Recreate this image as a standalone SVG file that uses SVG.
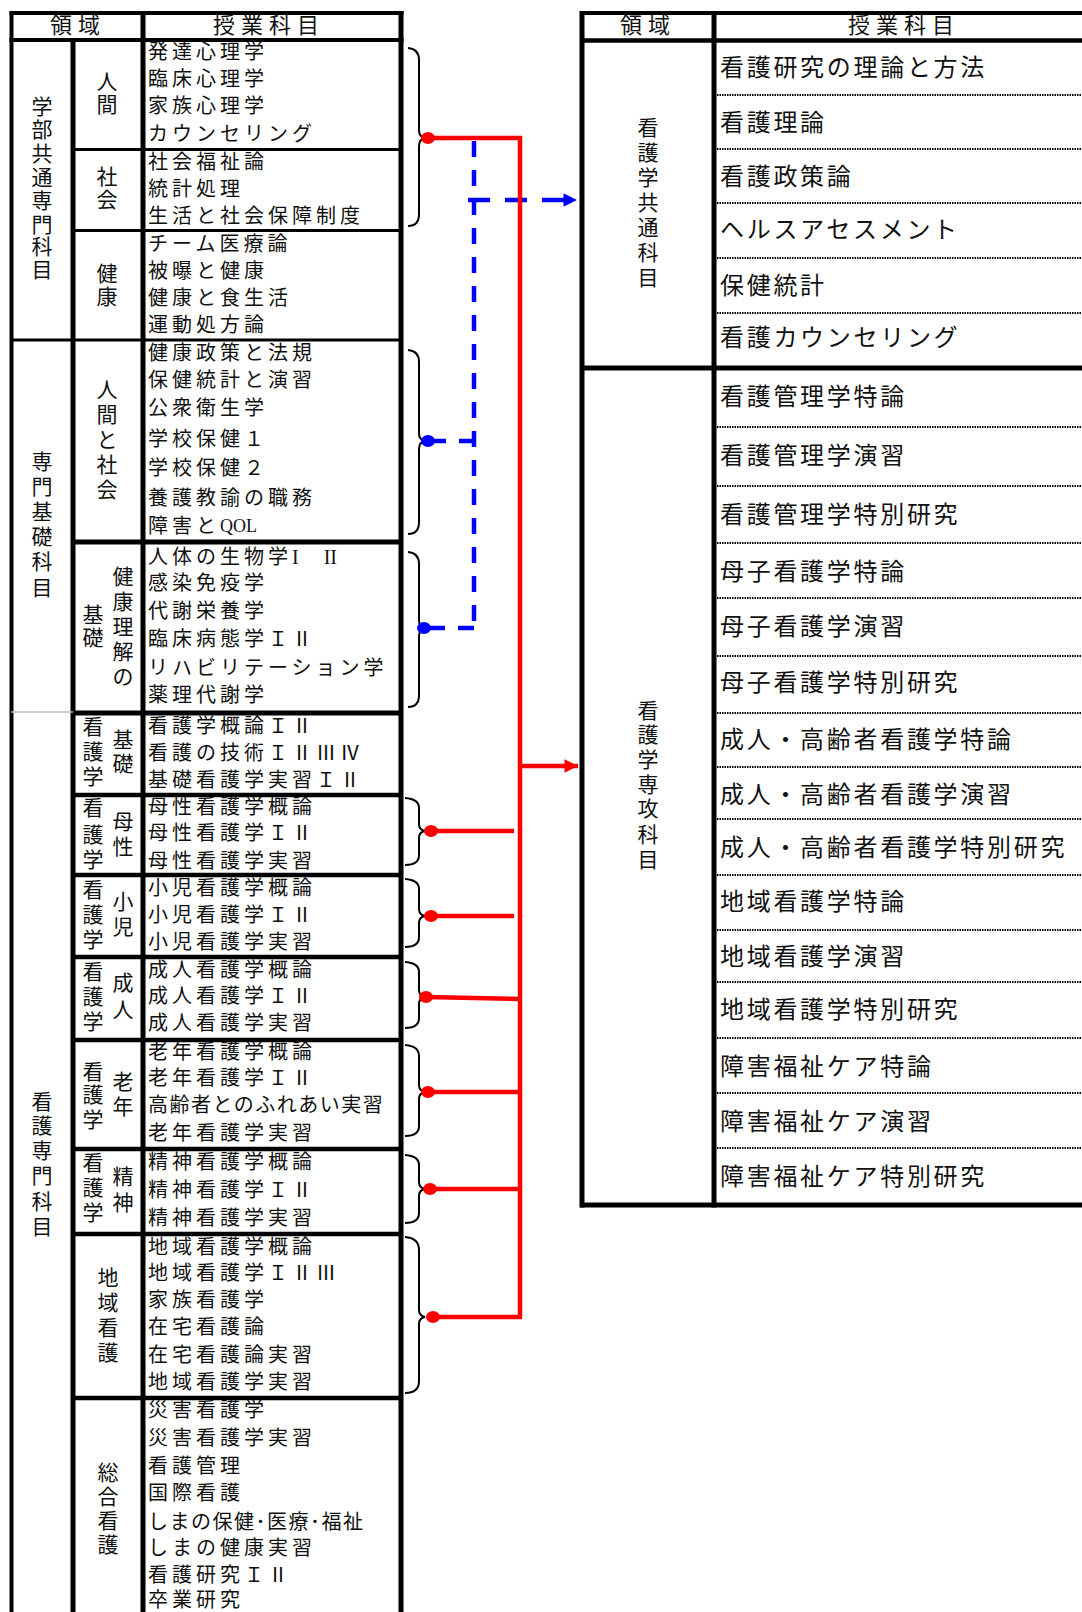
<svg xmlns="http://www.w3.org/2000/svg" width="1082" height="1612" viewBox="0 0 1082 1612">
<style>
text{font-family:"Liberation Serif","Noto Sans CJK JP",serif;fill:#111;dominant-baseline:central}
.c{font-size:20px;letter-spacing:4px}
.r{font-size:24px;letter-spacing:2.7px}
.v{font-size:21px;text-anchor:middle}
.h{font-size:22px;letter-spacing:6px}
.b{stroke:#000;fill:none}
.dot{stroke:#000;stroke-width:2;stroke-dasharray:1.5 1;fill:none}
.br{stroke:#000;stroke-width:2;fill:none}
.red{stroke:#f00;stroke-width:4.5;fill:none}
.blue{stroke:#00f;stroke-width:4.5;fill:none}
</style>
<defs>
<marker id="ar" viewBox="0 0 10 10" refX="10" refY="5" markerWidth="4" markerHeight="3" markerUnits="strokeWidth" orient="auto"><path d="M0 0L10 5L0 10z" fill="#f00"/></marker>
<marker id="ab" viewBox="0 0 10 10" refX="10" refY="5" markerWidth="4" markerHeight="3" markerUnits="strokeWidth" orient="auto"><path d="M0 0L10 5L0 10z" fill="#00f"/></marker>
</defs>
<rect width="1082" height="1612" fill="#fff"/>

<g id="left-grid">
<line class="b" stroke-width="4" x1="11.5" y1="11" x2="11.5" y2="1612"/>
<line class="b" stroke-width="5" x1="73" y1="40" x2="73" y2="1612"/>
<line class="b" stroke-width="5" x1="143" y1="11" x2="143" y2="1612"/>
<line class="b" stroke-width="5" x1="401" y1="11" x2="401" y2="1612"/>
<line class="b" stroke-width="4" x1="9.5" y1="13" x2="403.5" y2="13"/>
<line class="b" stroke-width="4" x1="9.5" y1="40" x2="403.5" y2="40"/>
<line class="b" stroke-width="3" x1="73" y1="149.5" x2="401" y2="149.5"/>
<line class="b" stroke-width="3" x1="73" y1="230.5" x2="401" y2="230.5"/>
<line class="b" stroke-width="3" x1="11" y1="340" x2="401" y2="340"/>
<line class="b" stroke-width="5" x1="73" y1="542" x2="401" y2="542"/>
<line class="b" stroke-width="5" x1="73" y1="713" x2="401" y2="713"/>
<line stroke="#bbb" stroke-width="1.5" x1="11" y1="712" x2="73" y2="712"/>
<line class="b" stroke-width="4.5" x1="73" y1="795" x2="401" y2="795"/>
<line class="b" stroke-width="4.5" x1="73" y1="875" x2="401" y2="875"/>
<line class="b" stroke-width="4.5" x1="73" y1="957" x2="401" y2="957"/>
<line class="b" stroke-width="4.5" x1="73" y1="1040" x2="401" y2="1040"/>
<line class="b" stroke-width="4.5" x1="73" y1="1149" x2="401" y2="1149"/>
<line class="b" stroke-width="4.5" x1="73" y1="1234" x2="401" y2="1234"/>
<line class="b" stroke-width="4.5" x1="73" y1="1398" x2="401" y2="1398"/>
</g>

<g id="left-header">
<text class="h" x="50" y="25">領域</text>
<text class="h" x="213" y="25">授業科目</text>
</g>

<g id="sec-gakubu">
<text class="v" x="42" y="107">学</text><text class="v" x="42" y="130">部</text><text class="v" x="42" y="154">共</text><text class="v" x="42" y="178">通</text><text class="v" x="42" y="201">専</text><text class="v" x="42" y="225">門</text><text class="v" x="42" y="247">科</text><text class="v" x="42" y="270">目</text>
</g>
<g id="g-ningen">
<text class="v" x="107" y="82">人</text><text class="v" x="107" y="105">間</text>
<text class="c" x="148" y="52">発達心理学</text>
<text class="c" x="148" y="79">臨床心理学</text>
<text class="c" x="148" y="106">家族心理学</text>
<text class="c" x="148" y="134">カウンセリング</text>
</g>
<g id="g-shakai">
<text class="v" x="107" y="177">社</text><text class="v" x="107" y="200">会</text>
<text class="c" x="148" y="162">社会福祉論</text>
<text class="c" x="148" y="189">統計処理</text>
<text class="c" x="148" y="216">生活と社会保障制度</text>
</g>
<g id="g-kenko">
<text class="v" x="107" y="274">健</text><text class="v" x="107" y="297">康</text>
<text class="c" x="148" y="244">チーム医療論</text>
<text class="c" x="148" y="271">被曝と健康</text>
<text class="c" x="148" y="298">健康と食生活</text>
<text class="c" x="148" y="325">運動処方論</text>
</g>

<g id="sec-senmon-kiso">
<text class="v" x="42" y="462">専</text><text class="v" x="42" y="487">門</text><text class="v" x="42" y="512">基</text><text class="v" x="42" y="537">礎</text><text class="v" x="42" y="562">科</text><text class="v" x="42" y="588">目</text>
</g>
<g id="g-ningen-shakai">
<text class="v" x="107" y="390">人</text><text class="v" x="107" y="415">間</text><text class="v" x="107" y="440">と</text><text class="v" x="107" y="465">社</text><text class="v" x="107" y="490">会</text>
<text class="c" x="148" y="353">健康政策と法規</text>
<text class="c" x="148" y="380">保健統計と演習</text>
<text class="c" x="148" y="408">公衆衛生学</text>
<text class="c" x="148" y="439">学校保健１</text>
<text class="c" x="148" y="468">学校保健２</text>
<text class="c" x="148" y="498">養護教諭の職務</text>
<text class="c" x="148" y="526">障害と<tspan style="letter-spacing:0;font-size:18px">QOL</tspan></text>
</g>
<g id="g-kenko-rikai">
<text class="v" x="123" y="577">健</text><text class="v" x="123" y="602">康</text><text class="v" x="123" y="627">理</text><text class="v" x="123" y="652">解</text><text class="v" x="123" y="677">の</text>
<text class="v" x="93" y="615">基</text><text class="v" x="93" y="638">礎</text>
<text class="c" x="148" y="557">人体の生物学<tspan style="letter-spacing:0">I　 II</tspan></text>
<text class="c" x="148" y="583">感染免疫学</text>
<text class="c" x="148" y="611">代謝栄養学</text>
<text class="c" x="148" y="639">臨床病態学ＩⅡ</text>
<text class="c" x="148" y="668">リハビリテーション学</text>
<text class="c" x="148" y="695">薬理代謝学</text>
</g>

<g id="sec-kango-senmon">
<text class="v" x="42" y="1102">看</text><text class="v" x="42" y="1126">護</text><text class="v" x="42" y="1151">専</text><text class="v" x="42" y="1176">門</text><text class="v" x="42" y="1202">科</text><text class="v" x="42" y="1227">目</text>
</g>
<g id="g-kiso-kango">
<text class="v" x="93" y="727">看</text><text class="v" x="93" y="752">護</text><text class="v" x="93" y="777">学</text>
<text class="v" x="123" y="740">基</text><text class="v" x="123" y="764">礎</text>
<text class="c" x="148" y="726">看護学概論ＩⅡ</text>
<text class="c" x="148" y="753">看護の技術ＩⅡⅢⅣ</text>
<text class="c" x="148" y="780">基礎看護学実習ＩⅡ</text>
</g>
<g id="g-bosei">
<text class="v" x="93" y="808">看</text><text class="v" x="93" y="835">護</text><text class="v" x="93" y="860">学</text>
<text class="v" x="123" y="822">母</text><text class="v" x="123" y="847">性</text>
<text class="c" x="148" y="807">母性看護学概論</text>
<text class="c" x="148" y="833">母性看護学ＩⅡ</text>
<text class="c" x="148" y="861">母性看護学実習</text>
</g>
<g id="g-shoni">
<text class="v" x="93" y="890">看</text><text class="v" x="93" y="915">護</text><text class="v" x="93" y="940">学</text>
<text class="v" x="123" y="902">小</text><text class="v" x="123" y="927">児</text>
<text class="c" x="148" y="888">小児看護学概論</text>
<text class="c" x="148" y="915">小児看護学ＩⅡ</text>
<text class="c" x="148" y="942">小児看護学実習</text>
</g>
<g id="g-seijin">
<text class="v" x="93" y="972">看</text><text class="v" x="93" y="997">護</text><text class="v" x="93" y="1022">学</text>
<text class="v" x="123" y="983">成</text><text class="v" x="123" y="1010">人</text>
<text class="c" x="148" y="970">成人看護学概論</text>
<text class="c" x="148" y="996">成人看護学ＩⅡ</text>
<text class="c" x="148" y="1023">成人看護学実習</text>
</g>
<g id="g-ronen">
<text class="v" x="93" y="1072">看</text><text class="v" x="93" y="1095">護</text><text class="v" x="93" y="1120">学</text>
<text class="v" x="123" y="1082">老</text><text class="v" x="123" y="1107">年</text>
<text class="c" x="148" y="1052">老年看護学概論</text>
<text class="c" x="148" y="1078">老年看護学ＩⅡ</text>
<text class="c" x="148" y="1105" style="letter-spacing:1.5px">高齢者とのふれあい実習</text>
<text class="c" x="148" y="1133">老年看護学実習</text>
</g>
<g id="g-seishin">
<text class="v" x="93" y="1163">看</text><text class="v" x="93" y="1188">護</text><text class="v" x="93" y="1213">学</text>
<text class="v" x="123" y="1177">精</text><text class="v" x="123" y="1203">神</text>
<text class="c" x="148" y="1162">精神看護学概論</text>
<text class="c" x="148" y="1190">精神看護学ＩⅡ</text>
<text class="c" x="148" y="1218">精神看護学実習</text>
</g>
<g id="g-chiiki">
<text class="v" x="108" y="1278">地</text><text class="v" x="108" y="1303">域</text><text class="v" x="108" y="1328">看</text><text class="v" x="108" y="1353">護</text>
<text class="c" x="148" y="1247">地域看護学概論</text>
<text class="c" x="148" y="1273">地域看護学ＩⅡⅢ</text>
<text class="c" x="148" y="1300">家族看護学</text>
<text class="c" x="148" y="1327">在宅看護論</text>
<text class="c" x="148" y="1355">在宅看護論実習</text>
<text class="c" x="148" y="1382">地域看護学実習</text>
</g>
<g id="g-sogo">
<text class="v" x="108" y="1473">総</text><text class="v" x="108" y="1497">合</text><text class="v" x="108" y="1521">看</text><text class="v" x="108" y="1545">護</text>
<text class="c" x="148" y="1410">災害看護学</text>
<text class="c" x="148" y="1438">災害看護学実習</text>
<text class="c" x="148" y="1466">看護管理</text>
<text class="c" x="148" y="1493">国際看護</text>
<text class="c" x="148" y="1522" style="letter-spacing:1.5px">しまの保健･医療･福祉</text>
<text class="c" x="148" y="1548">しまの健康実習</text>
<text class="c" x="148" y="1575">看護研究ＩⅡ</text>
<text class="c" x="148" y="1600">卒業研究</text>
</g>

<g id="right-grid">
<line class="b" stroke-width="5" x1="582" y1="11" x2="582" y2="1207.5"/>
<line class="b" stroke-width="5" x1="714" y1="11" x2="714" y2="1207.5"/>
<line class="b" stroke-width="4" x1="580" y1="13" x2="1082" y2="13"/>
<line class="b" stroke-width="4.5" x1="580" y1="40.5" x2="1082" y2="40.5"/>
<line class="b" stroke-width="5" x1="580" y1="368" x2="1082" y2="368"/>
<line class="b" stroke-width="5" x1="580" y1="1205" x2="1082" y2="1205"/>
<path class="dot" d="M717 95H1082M717 149H1082M717 203H1082M717 258H1082M717 313H1082M717 427H1082M717 486H1082M717 543H1082M717 598H1082M717 656H1082M717 713H1082M717 767H1082M717 819H1082M717 875H1082M717 930H1082M717 982H1082M717 1038H1082M717 1093H1082M717 1148H1082"/>
</g>
<g id="right-header">
<text class="h" x="620" y="25">領域</text>
<text class="h" x="848" y="25">授業科目</text>
</g>
<g id="r-kyotsu">
<text class="v" x="648" y="128">看</text><text class="v" x="648" y="153">護</text><text class="v" x="648" y="178">学</text><text class="v" x="648" y="203">共</text><text class="v" x="648" y="228">通</text><text class="v" x="648" y="253">科</text><text class="v" x="648" y="278">目</text>
<text class="r" x="720" y="68">看護研究の理論と方法</text>
<text class="r" x="720" y="123">看護理論</text>
<text class="r" x="720" y="177">看護政策論</text>
<text class="r" x="720" y="230">ヘルスアセスメント</text>
<text class="r" x="720" y="286">保健統計</text>
<text class="r" x="720" y="338">看護カウンセリング</text>
</g>
<g id="r-senko">
<text class="v" x="648" y="711">看</text><text class="v" x="648" y="735">護</text><text class="v" x="648" y="760">学</text><text class="v" x="648" y="785">専</text><text class="v" x="648" y="809">攻</text><text class="v" x="648" y="835">科</text><text class="v" x="648" y="860">目</text>
<text class="r" x="720" y="397">看護管理学特論</text>
<text class="r" x="720" y="456">看護管理学演習</text>
<text class="r" x="720" y="515">看護管理学特別研究</text>
<text class="r" x="720" y="572">母子看護学特論</text>
<text class="r" x="720" y="627">母子看護学演習</text>
<text class="r" x="720" y="683">母子看護学特別研究</text>
<text class="r" x="720" y="740">成人・高齢者看護学特論</text>
<text class="r" x="720" y="795">成人・高齢者看護学演習</text>
<text class="r" x="720" y="848">成人・高齢者看護学特別研究</text>
<text class="r" x="720" y="902">地域看護学特論</text>
<text class="r" x="720" y="957">地域看護学演習</text>
<text class="r" x="720" y="1010">地域看護学特別研究</text>
<text class="r" x="720" y="1067">障害福祉ケア特論</text>
<text class="r" x="720" y="1122">障害福祉ケア演習</text>
<text class="r" x="720" y="1177">障害福祉ケア特別研究</text>
</g>

<g id="connectors">
<path class="br" d="M408 48Q419 49 419 60V130Q419 137 425 138Q419 139 419 146V214Q419 226 408 226"/>
<path class="br" d="M408 350Q419 351 419 362V433Q419 440 425 441Q419 442 419 449V522Q419 534 408 534"/>
<path class="br" d="M408 552Q419 553 419 564V620Q419 627 425 628Q419 629 419 636V695Q419 707 408 707"/>
<path class="br" d="M405 798Q419 799 419 808V824Q419 830 425 831Q419 832 419 838V855Q419 865 405 865"/>
<path class="br" d="M405 879Q419 880 419 889V909Q419 915 425 916Q419 917 419 923V937Q419 947 405 947"/>
<path class="br" d="M405 962Q419 963 419 972V990Q419 996 425 997Q419 998 419 1004V1018Q419 1028 405 1028"/>
<path class="br" d="M405 1045Q419 1046 419 1056V1085Q419 1091 425 1092Q419 1093 419 1099V1126Q419 1136 405 1136"/>
<path class="br" d="M405 1155Q419 1156 419 1165V1182Q419 1188 425 1189Q419 1190 419 1196V1213Q419 1223 405 1223"/>
<path class="br" d="M405 1237Q419 1238 419 1250V1310Q419 1316 425 1317Q419 1318 419 1324V1381Q419 1393 405 1393"/>

<path class="blue" stroke-dasharray="16 13" d="M474 141V628"/>
<path class="blue" stroke-dasharray="16 13" d="M474 628H426"/>
<path class="blue" stroke-dasharray="18 13" d="M428 441H474"/>
<path class="blue" stroke-dasharray="22 15" d="M468 200H577" marker-end="url(#ab)"/>
<ellipse cx="428" cy="441" rx="7" ry="6" fill="#00f"/>
<ellipse cx="424" cy="628" rx="7" ry="6" fill="#00f"/>

<path class="red" d="M428 138H520V1317H432"/>
<path class="red" d="M520 766H578" marker-end="url(#ar)"/>
<path class="red" d="M431 831H514"/>
<path class="red" d="M431 916H514"/>
<path class="red" d="M426 997L520 999"/>
<path class="red" d="M428 1092H520"/>
<path class="red" d="M430 1189H520"/>
<ellipse cx="428" cy="138" rx="7" ry="6" fill="#f00"/>
<ellipse cx="431" cy="831" rx="7" ry="6" fill="#f00"/>
<ellipse cx="431" cy="916" rx="7" ry="6" fill="#f00"/>
<ellipse cx="426" cy="997" rx="7" ry="6" fill="#f00"/>
<ellipse cx="428" cy="1092" rx="7" ry="6" fill="#f00"/>
<ellipse cx="430" cy="1189" rx="7" ry="6" fill="#f00"/>
<ellipse cx="433" cy="1317" rx="7" ry="6" fill="#f00"/>
</g>
</svg>
